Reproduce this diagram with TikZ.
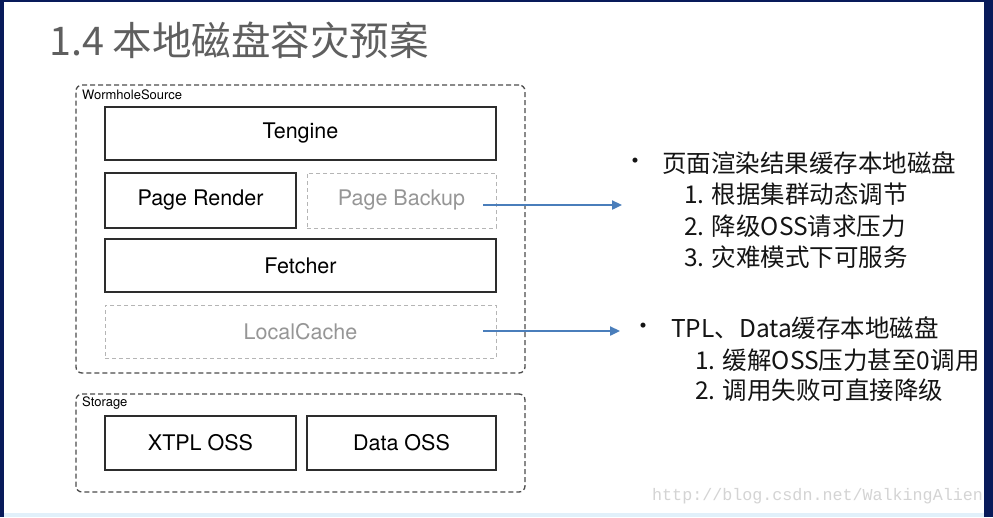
\documentclass[tikz,border=0pt]{standalone}
\usepackage{fontspec}
\usepackage{tikz}
\usetikzlibrary{positioning,arrows.meta}
\newfontfamily\cjk{Noto Sans CJK SC}
\newfontfamily\helv{TeX Gyre Heros}
\newfontfamily\wmfont{Liberation Mono}
\definecolor{navy}{RGB}{8,26,90}
\definecolor{edge}{RGB}{225,240,250}
\definecolor{arrowblue}{RGB}{74,126,187}
\definecolor{titlegray}{RGB}{95,95,95}
\definecolor{boxline}{RGB}{45,45,45}
\definecolor{ghost}{RGB}{150,150,150}
\definecolor{bodytext}{RGB}{20,20,20}

\begin{document}
\begin{tikzpicture}[x=1pt,y=-1pt,
    box/.style={draw=boxline, line width=1.3pt, inner sep=0pt, font=\helv\fontsize{21.5}{24}\selectfont},
    ghostbox/.style={draw=ghost!70, line width=1pt, dash pattern=on 4pt off 3pt, inner sep=0pt, text=ghost, font=\helv\fontsize{21.5}{24}\selectfont},
    group/.style={draw=boxline!85, line width=1.3pt, dash pattern=on 5pt off 3pt, rounded corners=6pt, inner sep=0pt},
    grouplabel/.style={anchor=west, inner sep=0pt, font=\helv\fontsize{13}{15}\selectfont},
    dot/.style={inner sep=0pt, text=bodytext, font=\helv\fontsize{20}{24}\selectfont},
    noteline/.style={anchor=west, inner sep=0pt, text=bodytext, font=\cjk\fontsize{24.5}{28}\selectfont},
    link/.style={draw=arrowblue, line width=2.3pt, -{Triangle[length=10pt,width=9pt]}}
]
    % slide frame
    \fill[navy] (0,0) rectangle (993,517);
    \fill[white] (4,2) rectangle (984,513);
    \fill[edge] (4,513) rectangle (984,517);

    \node[anchor=base west, inner sep=0pt, text=titlegray, font=\cjk\fontsize{39.5}{42}\selectfont] (title) at (49,55) {1.4 本地磁盘容灾预案};

    % WormholeSource
    \node[group, minimum width=449, minimum height=288] (wormhole) at (300.5,229) {};
    \node[grouplabel] (wormlabel) at (82,95) {WormholeSource};
    \node[box, minimum width=391, minimum height=53] (tengine) at (300.5,133.5) {Tengine};
    \node[box, minimum width=191, minimum height=55] (render) at (200.5,200.5) {Page Render};
    \node[ghostbox, minimum width=189, minimum height=55] (backup) at (401.5,200.5) {Page Backup};
    \node[box, minimum width=391, minimum height=53] (fetcher) at (300.5,265.5) {Fetcher};
    \node[ghostbox, minimum width=391, minimum height=53] (cache) at (300.5,331.5) {LocalCache};

    % Storage
    \node[group, minimum width=449, minimum height=98] (storage) at (300.5,443) {};
    \node[grouplabel] (storelabel) at (82,403) {Storage};
    \node[box, minimum width=191, minimum height=54] (xtpl) at (200.5,443) {XTPL OSS};
    \node[box, minimum width=189, minimum height=54] (dataoss) at (401.5,443) {Data OSS};

    % notes
    \node[dot] (dot1) at (635,163) {•};
    \node[noteline] (page) at (662,163) {页面渲染结果缓存本地磁盘};
    \node[noteline] (pageone) at (684,194) {1. 根据集群动态调节};
    \node[noteline] (pagetwo) at (684,226) {2. 降级OSS请求压力};
    \node[noteline] (pagethree) at (684,257) {3. 灾难模式下可服务};

    \node[dot] (dot2) at (643,328) {•};
    \node[noteline] (tpl) at (671,328) {TPL、Data缓存本地磁盘};
    \node[noteline] (tplone) at (695,360) {1. 缓解OSS压力甚至0调用};
    \node[noteline] (tpltwo) at (695,390) {2. 调用失败可直接降级};

    \coordinate (pbtail) at (483,205);
    \coordinate (pbhead) at (622,205);
    \coordinate (lctail) at (483,331);
    \coordinate (lchead) at (620,331);
    \draw[link] (pbtail) -- (pbhead);
    \draw[link] (lctail) -- (lchead);

    \node[anchor=west, inner sep=0pt, text=black!17, font=\wmfont\fontsize{16.7}{18}\selectfont] (mark) at (652,496) {http://blog.csdn.net/WalkingAlien};
\end{tikzpicture}
\end{document}
